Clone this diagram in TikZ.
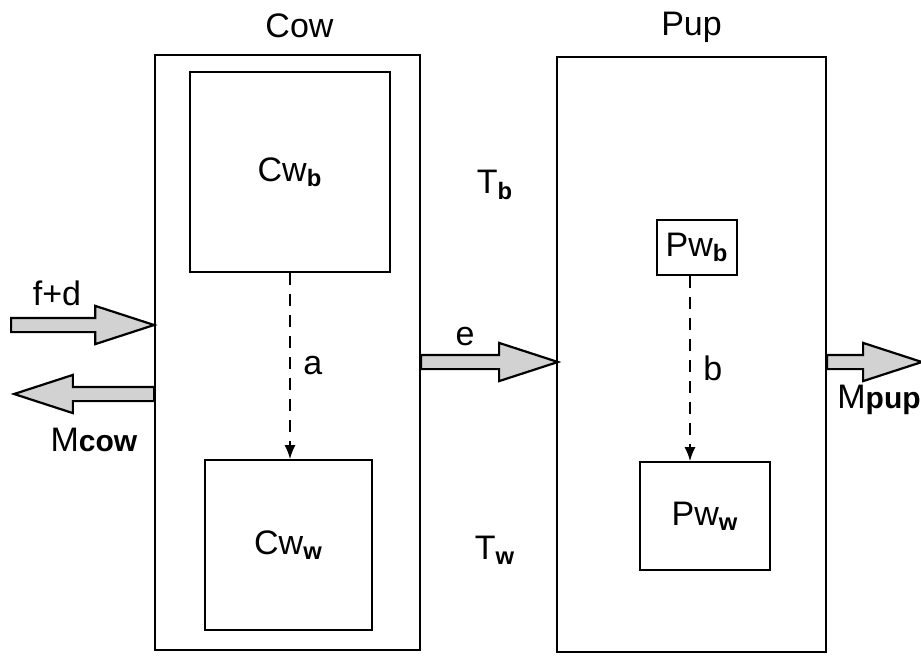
\documentclass[tikz,border=0pt]{standalone}
\usepackage{fontspec}
\setmainfont{Liberation Sans}
\usepackage{tikz}
\usetikzlibrary{arrows.meta,positioning,shapes.arrows}

\tikzset{
  box/.style={draw,line width=0.9pt,inner sep=0pt},
  blockarrow/.style={single arrow,draw,line width=1.1pt,fill=gray!35,inner xsep=0pt,inner ysep=3pt,
    single arrow head extend=6pt,single arrow tip angle=36,outer sep=0pt},
  flow/.style={dash pattern=on 6pt off 4.5pt,line width=0.8pt,-{Latex[length=7pt,width=5.5pt]}}
}
\newcommand{\flowname}[1]{M{\fontsize{15}{18}\selectfont\bfseries #1}}

\begin{document}
\begin{tikzpicture}[font=\fontsize{17}{20}\selectfont,x=0.5pt,y=-0.5pt]
\useasboundingbox (0,0) rectangle (921,660);
% outer compartments
\node[box,minimum width=132.5pt,minimum height=297.5pt] (cow) at (287.5,352.5) {};
\node[box,minimum width=134.5pt,minimum height=297.5pt] (pup) at (691.5,354.5) {};
\node[above=4.5pt of cow,xshift=6pt] (cowlbl) {Cow};
\node[above=3pt of pup] (puplbl) {Pup};
% inner pools
\node[box,minimum width=100pt,minimum height=100pt] (cwb) at (290,172) {Cw\textsubscript{\textbf{b}}};
\node[box,minimum width=83.5pt,minimum height=85pt] (cww) at (288.5,545) {Cw\textsubscript{\textbf{w}}};
\node[box,minimum width=40pt,minimum height=27.5pt] (pwb) at (697,247.5) {Pw\textsubscript{\textbf{b}}};
\node[box,minimum width=65pt,minimum height=54pt] (pww) at (705,516) {Pw\textsubscript{\textbf{w}}};
\node (tb) at (495,185) {T\textsubscript{\textbf{b}}};
\node (tw) at (495,550) {T\textsubscript{\textbf{w}}};
% transfers
\draw[flow] (cwb.south) -- (cwb.south |- cww.north) node[pos=0.5,right=3pt] (albl) {a};
\draw[flow] ([xshift=-3.5pt]pwb.south) -- ([xshift=-3.5pt]pwb.south |- pww.north) node[pos=0.5,right=3pt] (blbl) {b};
% in/out flows
\node[blockarrow,minimum height=71.5pt,anchor=tip] (fdarr) at ([yshift=13.75pt]cow.west) {};
\node[blockarrow,minimum height=70pt,anchor=tail,shape border rotate=180] (mcowarr) at ([yshift=-20.75pt]cow.west) {};
\node[blockarrow,minimum height=68.5pt,anchor=tail] (earr) at ([yshift=-4.75pt]cow.east) {};
\node[blockarrow,minimum height=47.5pt,anchor=tail] (mpuparr) at ([yshift=-3.75pt]pup.east) {};
\node (fdlbl) at (57,293) {f+d};
\node (mcowlbl) at (94,440) {\flowname{cow}};
\node (elbl) at (465,337) {e};
\node (mpuplbl) at (879,400) {\flowname{pup}};
\end{tikzpicture}
\end{document}
